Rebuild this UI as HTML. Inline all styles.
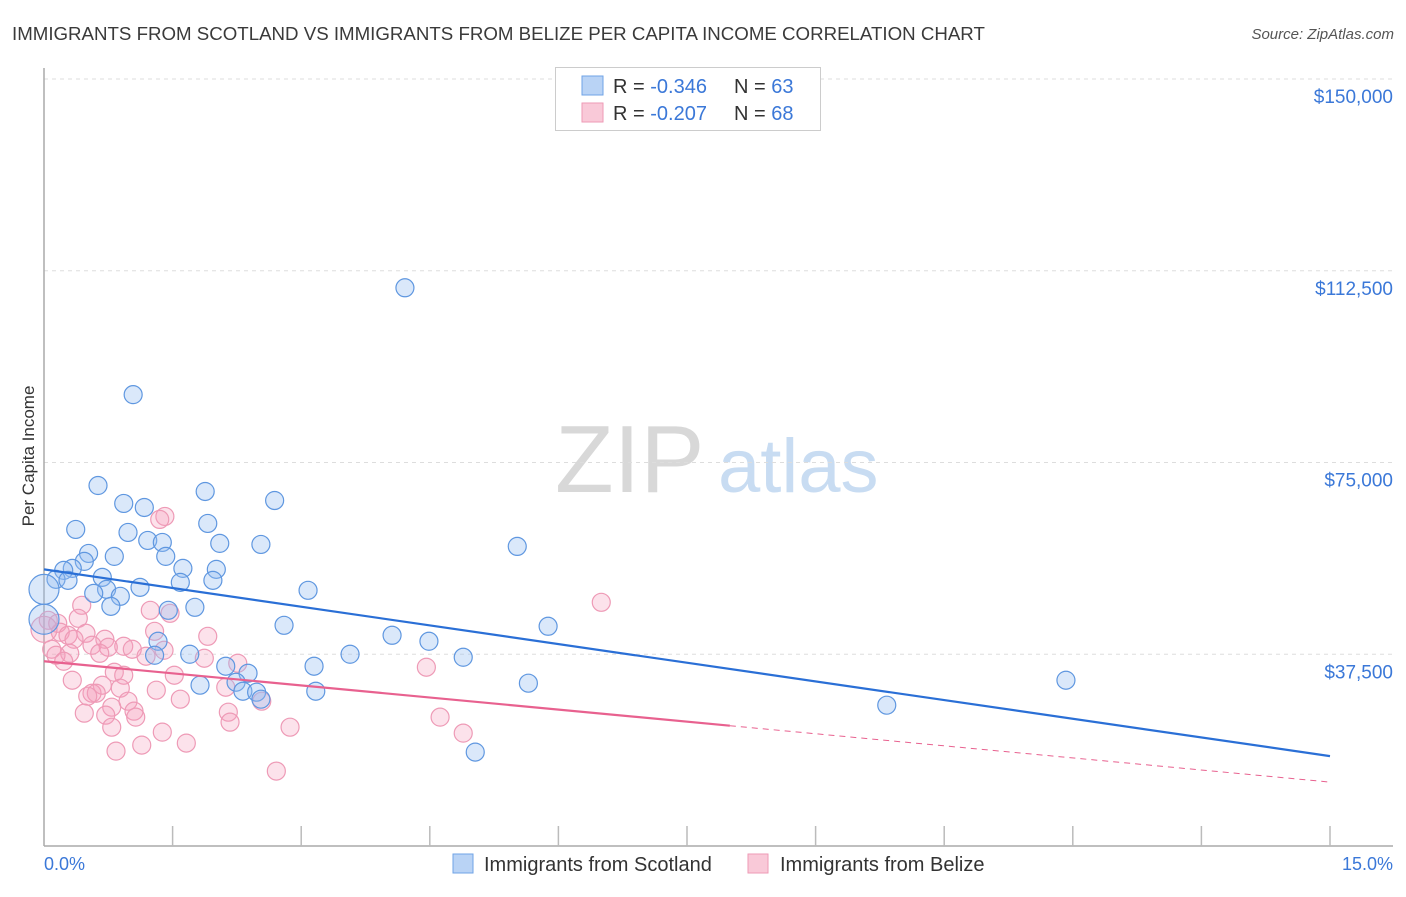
<!DOCTYPE html>
<html><head><meta charset="utf-8"><style>
body{margin:0;background:#fff;font-family:"Liberation Sans",sans-serif}
svg text{font-family:"Liberation Sans",sans-serif}
</style></head><body>
<svg width="1406" height="892" viewBox="0 0 1406 892">
<text x="12" y="40" font-size="18.7" fill="#3a3a3a">IMMIGRANTS FROM SCOTLAND VS IMMIGRANTS FROM BELIZE PER CAPITA INCOME CORRELATION CHART</text>
<text x="1394" y="39" font-size="15" fill="#555" font-style="italic" text-anchor="end">Source: ZipAtlas.com</text>
<g>
<text x="555" y="492" font-size="96" fill="#d8d8d8" font-family="Liberation Serif, serif">ZIP</text>
<text x="718" y="492" font-size="76" fill="#c8dcf2">atlas</text>
</g>
<g id="grid"></g>
<line x1="44" y1="68" x2="44" y2="846" stroke="#aaa" stroke-width="1.5"/>
<line x1="44" y1="846" x2="1393" y2="846" stroke="#aaa" stroke-width="1.5"/>
<g id="ticks"></g>
<text x="34" y="456" font-size="17" fill="#333" text-anchor="middle" transform="rotate(-90 34 456)">Per Capita Income</text>
<g id="ylabels"></g>
<text x="44" y="870" font-size="18" fill="#3b78d8">0.0%</text>
<text x="1393" y="870" font-size="18" fill="#3b78d8" text-anchor="end">15.0%</text>
<g id="pts"></g>
<g id="lines"></g>
<g>
<rect x="555.5" y="67.5" width="265" height="63" fill="#fff" stroke="#ccc"/>
<rect x="582" y="76" width="21" height="19" fill="#b9d3f5" stroke="#6fa3e6"/>
<rect x="582" y="103" width="21" height="19" fill="#f9c9d8" stroke="#ee9ab6"/>
<text x="613" y="93" font-size="20" fill="#333">R = <tspan fill="#3b78d8">-0.346</tspan></text>
<text x="734" y="93" font-size="20" fill="#333">N = <tspan fill="#3b78d8">63</tspan></text>
<text x="613" y="120" font-size="20" fill="#333">R = <tspan fill="#3b78d8">-0.207</tspan></text>
<text x="734" y="120" font-size="20" fill="#333">N = <tspan fill="#3b78d8">68</tspan></text>
</g>
<g>
<rect x="453" y="854" width="20" height="19" fill="#b9d3f5" stroke="#6fa3e6"/>
<text x="484" y="871" font-size="20" fill="#333">Immigrants from Scotland</text>
<rect x="748" y="854" width="20" height="19" fill="#f9c9d8" stroke="#ee9ab6"/>
<text x="780" y="871" font-size="20" fill="#333">Immigrants from Belize</text>
</g>
</svg>
<script>
const yTicks=[37500,75000,112500,150000];
const yTickLabels=["$37,500","$75,000","$112,500","$150,000"];
const blueX=[4.21,1.04,0.63,0.93,1.17,1.88,2.69,0.37,0.98,1.91,1.21,1.38,2.05,2.53,5.52,0.52,0.82,1.42,0.47,0.33,0.23,0.68,1.62,2.01,0.14,0.28,1.59,1.97,1.12,0.73,0.58,0.89,3.08,0.78,1.45,1.76,2.80,5.88,4.06,1.33,4.49,1.29,1.70,3.57,4.89,3.15,2.12,2.38,1.82,2.24,2.32,2.48,2.53,3.17,5.65,11.92,9.83,5.03,0.0,0.0];
const blueY=[109170,88270,70500,66990,66200,69330,67570,61910,61320,63080,59760,59370,59180,58980,58590,57220,56640,56640,55660,54290,53900,52540,54290,54100,52150,51950,51560,51950,50580,50190,49410,48830,50000,46870,46090,46680,43160,42970,41210,40040,40040,37300,37500,37500,36910,35160,35160,33790,31450,32030,30270,30080,28710,30270,31840,32420,27540,18360,50190,44340];
const blueBig=[58,59];
const pinkX=[1.41,1.35,6.50,1.24,0.44,1.47,0.40,0.05,0.16,0.19,1.29,1.91,0.49,0.28,0.35,0.71,0.56,0.93,0.75,0.09,1.03,1.40,0.30,0.14,0.65,1.19,1.87,2.26,0.23,4.46,0.82,0.93,1.52,0.33,0.68,0.56,0.89,1.31,0.61,2.12,0.51,1.59,0.98,2.54,0.79,0.47,0.72,1.05,2.15,1.07,4.62,2.17,0.79,2.87,1.38,4.89,1.14,1.66,0.84,2.71,0.0];
const pinkY=[64450,63870,47660,46090,47070,45510,44530,44140,43550,41800,41990,41010,41600,41210,40430,40430,39260,39060,38870,38480,38480,38280,37690,37300,37690,37110,36720,35740,36130,34960,33980,33400,33400,32420,31440,29880,30860,30470,29880,31050,29300,28710,28320,28320,27150,25980,25590,26370,26170,25200,25200,24220,23240,23240,22270,22070,19730,20120,18550,14650,42380];
const pinkBig=[60];
const blueTrend=[54100,17580];
const pinkTrend=[36130,12500];
const pinkSolidEnd=8.0;
const NS="http://www.w3.org/2000/svg";
const sx=v=>44+v/15*1286;
const sy=v=>846-v/150000*767;
function mk(tag,attrs,parent){const e=document.createElementNS(NS,tag);for(const k in attrs)e.setAttribute(k,attrs[k]);parent.appendChild(e);return e;}
const grid=document.getElementById('grid'),yl=document.getElementById('ylabels');
yTicks.forEach((t,i)=>{
 const l=mk('line',{x1:44,x2:1393,y1:sy(t),y2:sy(t),stroke:'#ddd','stroke-dasharray':'4,4'},grid);
 
 
 const tx=mk('text',{x:1393,y:sy(t)+24,'font-size':19,fill:'#3b78d8','text-anchor':'end'},yl);
 tx.textContent=yTickLabels[i];
 
 
});
const tk=document.getElementById('ticks');
for(let i=1;i<=10;i++){const l=mk('line',{x1:sx(i*1.5),x2:sx(i*1.5),y1:826,y2:846,stroke:'#bbb','stroke-width':1.5},tk);
 
 }
const pts=document.getElementById('pts');
pinkX.forEach((x,i)=>{const c=mk('circle',{cx:sx(x),cy:sy(pinkY[i]),r:pinkBig.includes(i)?13:9,fill:'rgba(244,160,190,0.3)',stroke:'#ee9ab6','stroke-width':1.2},pts);
 
 });
blueX.forEach((x,i)=>{const c=mk('circle',{cx:sx(x),cy:sy(blueY[i]),r:blueBig.includes(i)?15:9,fill:'rgba(150,190,240,0.35)',stroke:'#5f97e0','stroke-width':1.2},pts);
 
 });
const ln=document.getElementById('lines');
const bl=mk('line',{x1:sx(0),y1:sy(blueTrend[0]),x2:sx(15),y2:sy(blueTrend[1]),stroke:'#2a6fd6','stroke-width':2.2},ln);


const pm=pinkTrend[0]+(pinkTrend[1]-pinkTrend[0])*pinkSolidEnd/15;
const pl=mk('line',{x1:sx(0),y1:sy(pinkTrend[0]),x2:sx(pinkSolidEnd),y2:sy(pm),stroke:'#e8618f','stroke-width':2.2},ln);


const pd=mk('line',{x1:sx(pinkSolidEnd),y1:sy(pm),x2:sx(15),y2:sy(pinkTrend[1]),stroke:'#e8618f','stroke-width':1,'stroke-dasharray':'6,5'},ln);


</script>
</body></html>
